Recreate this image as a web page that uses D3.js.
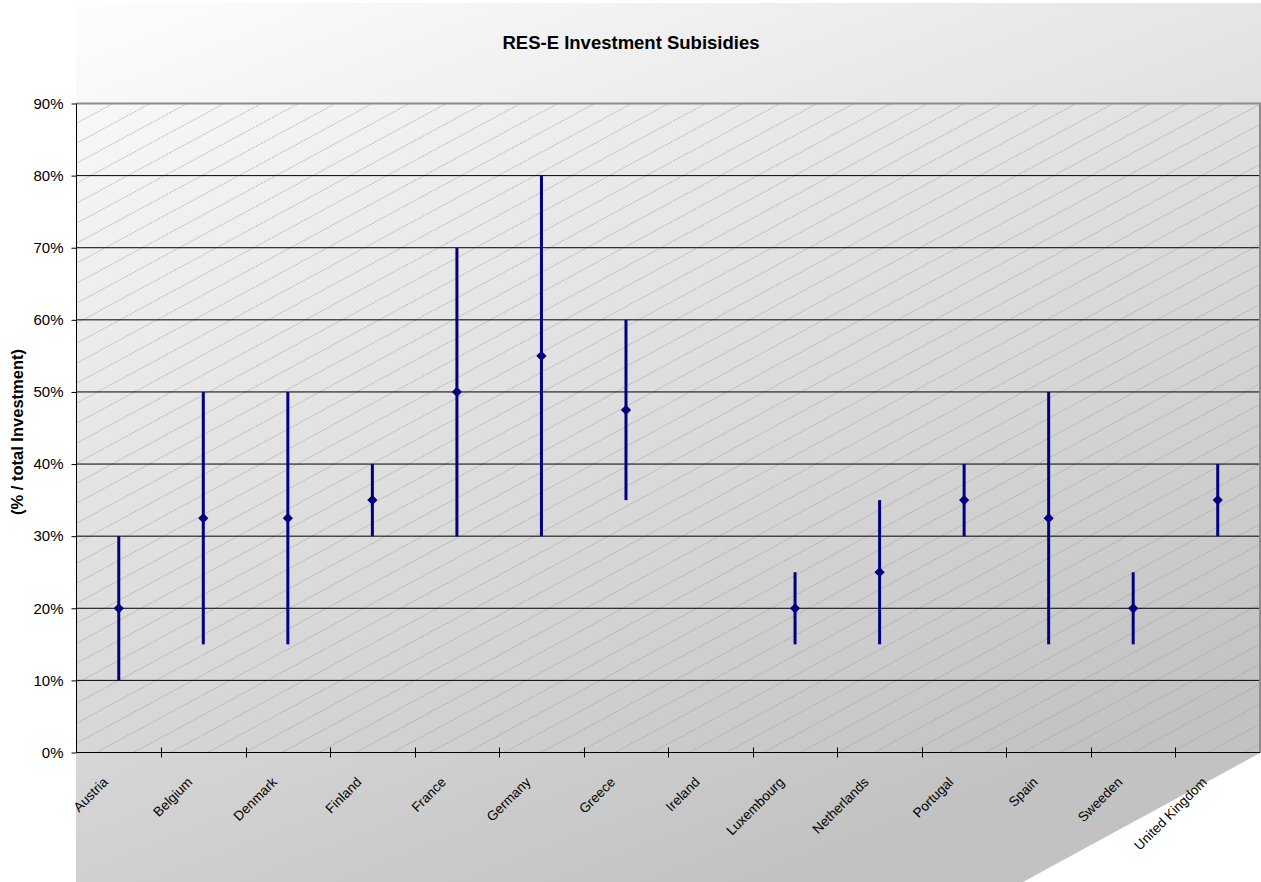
<!DOCTYPE html>
<html>
<head>
<meta charset="utf-8">
<script src="https://cdn.jsdelivr.net/npm/d3@7/dist/d3.min.js"></script>
<style>
  html, body { margin: 0; padding: 0; background: #ffffff; }
  svg { display: block; font-family: "Liberation Sans", Arial, sans-serif; }
</style>
</head>
<body>
<svg id="chart" width="1261" height="882"></svg>
<script>
// Investment subsidy ranges per country (share of total investment, %)
const categories = ["Austria", "Belgium", "Denmark", "Finland", "France", "Germany", "Greece",
  "Ireland", "Luxembourg", "Netherlands", "Portugal", "Spain", "Sweeden", "United Kingdom"];
const lowValues  = [10, 15, 15, 30, 30, 30, 35, null, 15, 15, 30, 15, 15, 30];
const highValues = [30, 50, 50, 40, 70, 80, 60, null, 25, 35, 40, 50, 25, 40];
const midValues  = [20, 32.5, 32.5, 35, 50, 55, 47.5, null, 20, 25, 35, 32.5, 20, 35];
const yTicks = [0, 10, 20, 30, 40, 50, 60, 70, 80, 90];

const titleText = "RES-E Investment Subisidies";
const yTitleText = "(% / total Investment)";

const W = 1261, H = 882;
const plot = { left: 76.5, right: 1260, top: 103.5, bottom: 752.5 };

const svg = d3.select("#chart");
const defs = svg.append("defs");

// chart background: diagonal grey gradient
const grad = defs.append("linearGradient")
  .attr("id", "bgGrad")
  .attr("gradientUnits", "userSpaceOnUse")
  .attr("x1", 0).attr("y1", 0).attr("x2", 400).attr("y2", 1023);
grad.append("stop").attr("offset", 0).attr("stop-color", "#ffffff");
grad.append("stop").attr("offset", 1).attr("stop-color", "#c2c2c2");

defs.append("clipPath").attr("id", "plotClip")
  .append("rect")
  .attr("x", plot.left).attr("y", plot.top)
  .attr("width", plot.right - plot.left).attr("height", plot.bottom - plot.top);

const x = d3.scaleBand().domain(categories).range([plot.left, plot.right]);
const y = d3.scaleLinear().domain([0, 90]).range([plot.bottom, plot.top]);

// background shape with the cut lower-right corner
svg.append("polygon")
  .attr("points", [
    [plot.left - 0.5, 3], [W, 3], [W, plot.bottom], [1023, H], [plot.left - 0.5, H]
  ].map(p => p.join(",")).join(" "))
  .attr("fill", "url(#bgGrad)");

// diagonal hatching inside the plot area
const hatch = svg.append("g").attr("clip-path", "url(#plotClip)");
const slope = 0.54, spacing = 20;
for (let y0 = plot.top + 19.8 - spacing * 40; y0 < plot.bottom + 1400; y0 += spacing) {
  hatch.append("line")
    .attr("x1", plot.left).attr("y1", y0)
    .attr("x2", plot.right).attr("y2", y0 - slope * (plot.right - plot.left))
    .attr("stroke", "#a0a0a0")
    .attr("stroke-width", 0.7)
    .attr("stroke-dasharray", "2 1");
}

// horizontal gridlines
svg.append("g").selectAll("line")
  .data(yTicks.filter(v => v > 0 && v < 90))
  .join("line")
  .attr("x1", plot.left).attr("x2", plot.right)
  .attr("y1", d => y(d)).attr("y2", d => y(d))
  .attr("stroke", "#000").attr("stroke-width", 1);

// top and right frame
svg.append("line")
  .attr("x1", plot.left).attr("x2", plot.right + 1)
  .attr("y1", y(90)).attr("y2", y(90))
  .attr("stroke", "#8c8c8c").attr("stroke-width", 2);
svg.append("line")
  .attr("x1", plot.right).attr("x2", plot.right)
  .attr("y1", y(90)).attr("y2", plot.bottom)
  .attr("stroke", "#8c8c8c").attr("stroke-width", 2);

// y axis
const yAxis = svg.append("g")
  .attr("transform", `translate(${plot.left},0)`)
  .call(d3.axisLeft(y).tickValues(yTicks).tickSize(5).tickPadding(8).tickFormat(d => d + "%"));
yAxis.select(".domain").attr("stroke", "#000").attr("d", `M0,${plot.top}V${plot.bottom}`);
yAxis.selectAll(".tick line").attr("stroke", "#000");
yAxis.selectAll(".tick text")
  .attr("font-family", "Liberation Sans, Arial, sans-serif")
  .attr("font-size", 15).attr("fill", "#000");

// x axis line and category boundary ticks
svg.append("line")
  .attr("x1", plot.left).attr("x2", plot.right)
  .attr("y1", plot.bottom).attr("y2", plot.bottom)
  .attr("stroke", "#000").attr("stroke-width", 1);
svg.append("g").selectAll("line")
  .data(categories.slice(1))
  .join("line")
  .attr("x1", d => Math.round(x(d)) + 0.5).attr("x2", d => Math.round(x(d)) + 0.5)
  .attr("y1", plot.bottom - 5).attr("y2", plot.bottom + 5)
  .attr("stroke", "#000").attr("stroke-width", 1);

// rotated category labels
svg.append("g").selectAll("text")
  .data(categories)
  .join("text")
  .attr("transform", d => `translate(${x(d) + x.bandwidth() / 2 - 10},${783}) rotate(-45)`)
  .attr("text-anchor", "end")
  .attr("font-size", 13.5)
  .attr("fill", "#000")
  .text(d => d);

// range bars and midpoint diamonds
const rows = categories.map((c, i) => ({ c, lo: lowValues[i], hi: highValues[i], mid: midValues[i] }))
  .filter(r => r.lo != null);

svg.append("g").selectAll("line")
  .data(rows)
  .join("line")
  .attr("x1", d => x(d.c) + x.bandwidth() / 2).attr("x2", d => x(d.c) + x.bandwidth() / 2)
  .attr("y1", d => y(d.lo)).attr("y2", d => y(d.hi))
  .attr("stroke", "#000080").attr("stroke-width", 3);

svg.append("g").selectAll("path")
  .data(rows)
  .join("path")
  .attr("transform", d => `translate(${x(d.c) + x.bandwidth() / 2},${y(d.mid)}) rotate(45)`)
  .attr("d", d3.symbol().type(d3.symbolSquare).size(52))
  .attr("fill", "#000080");

// titles
svg.append("text")
  .attr("x", 631).attr("y", 49)
  .attr("text-anchor", "middle")
  .attr("font-weight", "bold")
  .attr("font-size", 18.5)
  .text(titleText);

svg.append("text")
  .attr("transform", `translate(23,432) rotate(-90)`)
  .attr("text-anchor", "middle")
  .attr("font-weight", "bold")
  .attr("font-size", 16.5)
  .text(yTitleText);
</script>
</body>
</html>
